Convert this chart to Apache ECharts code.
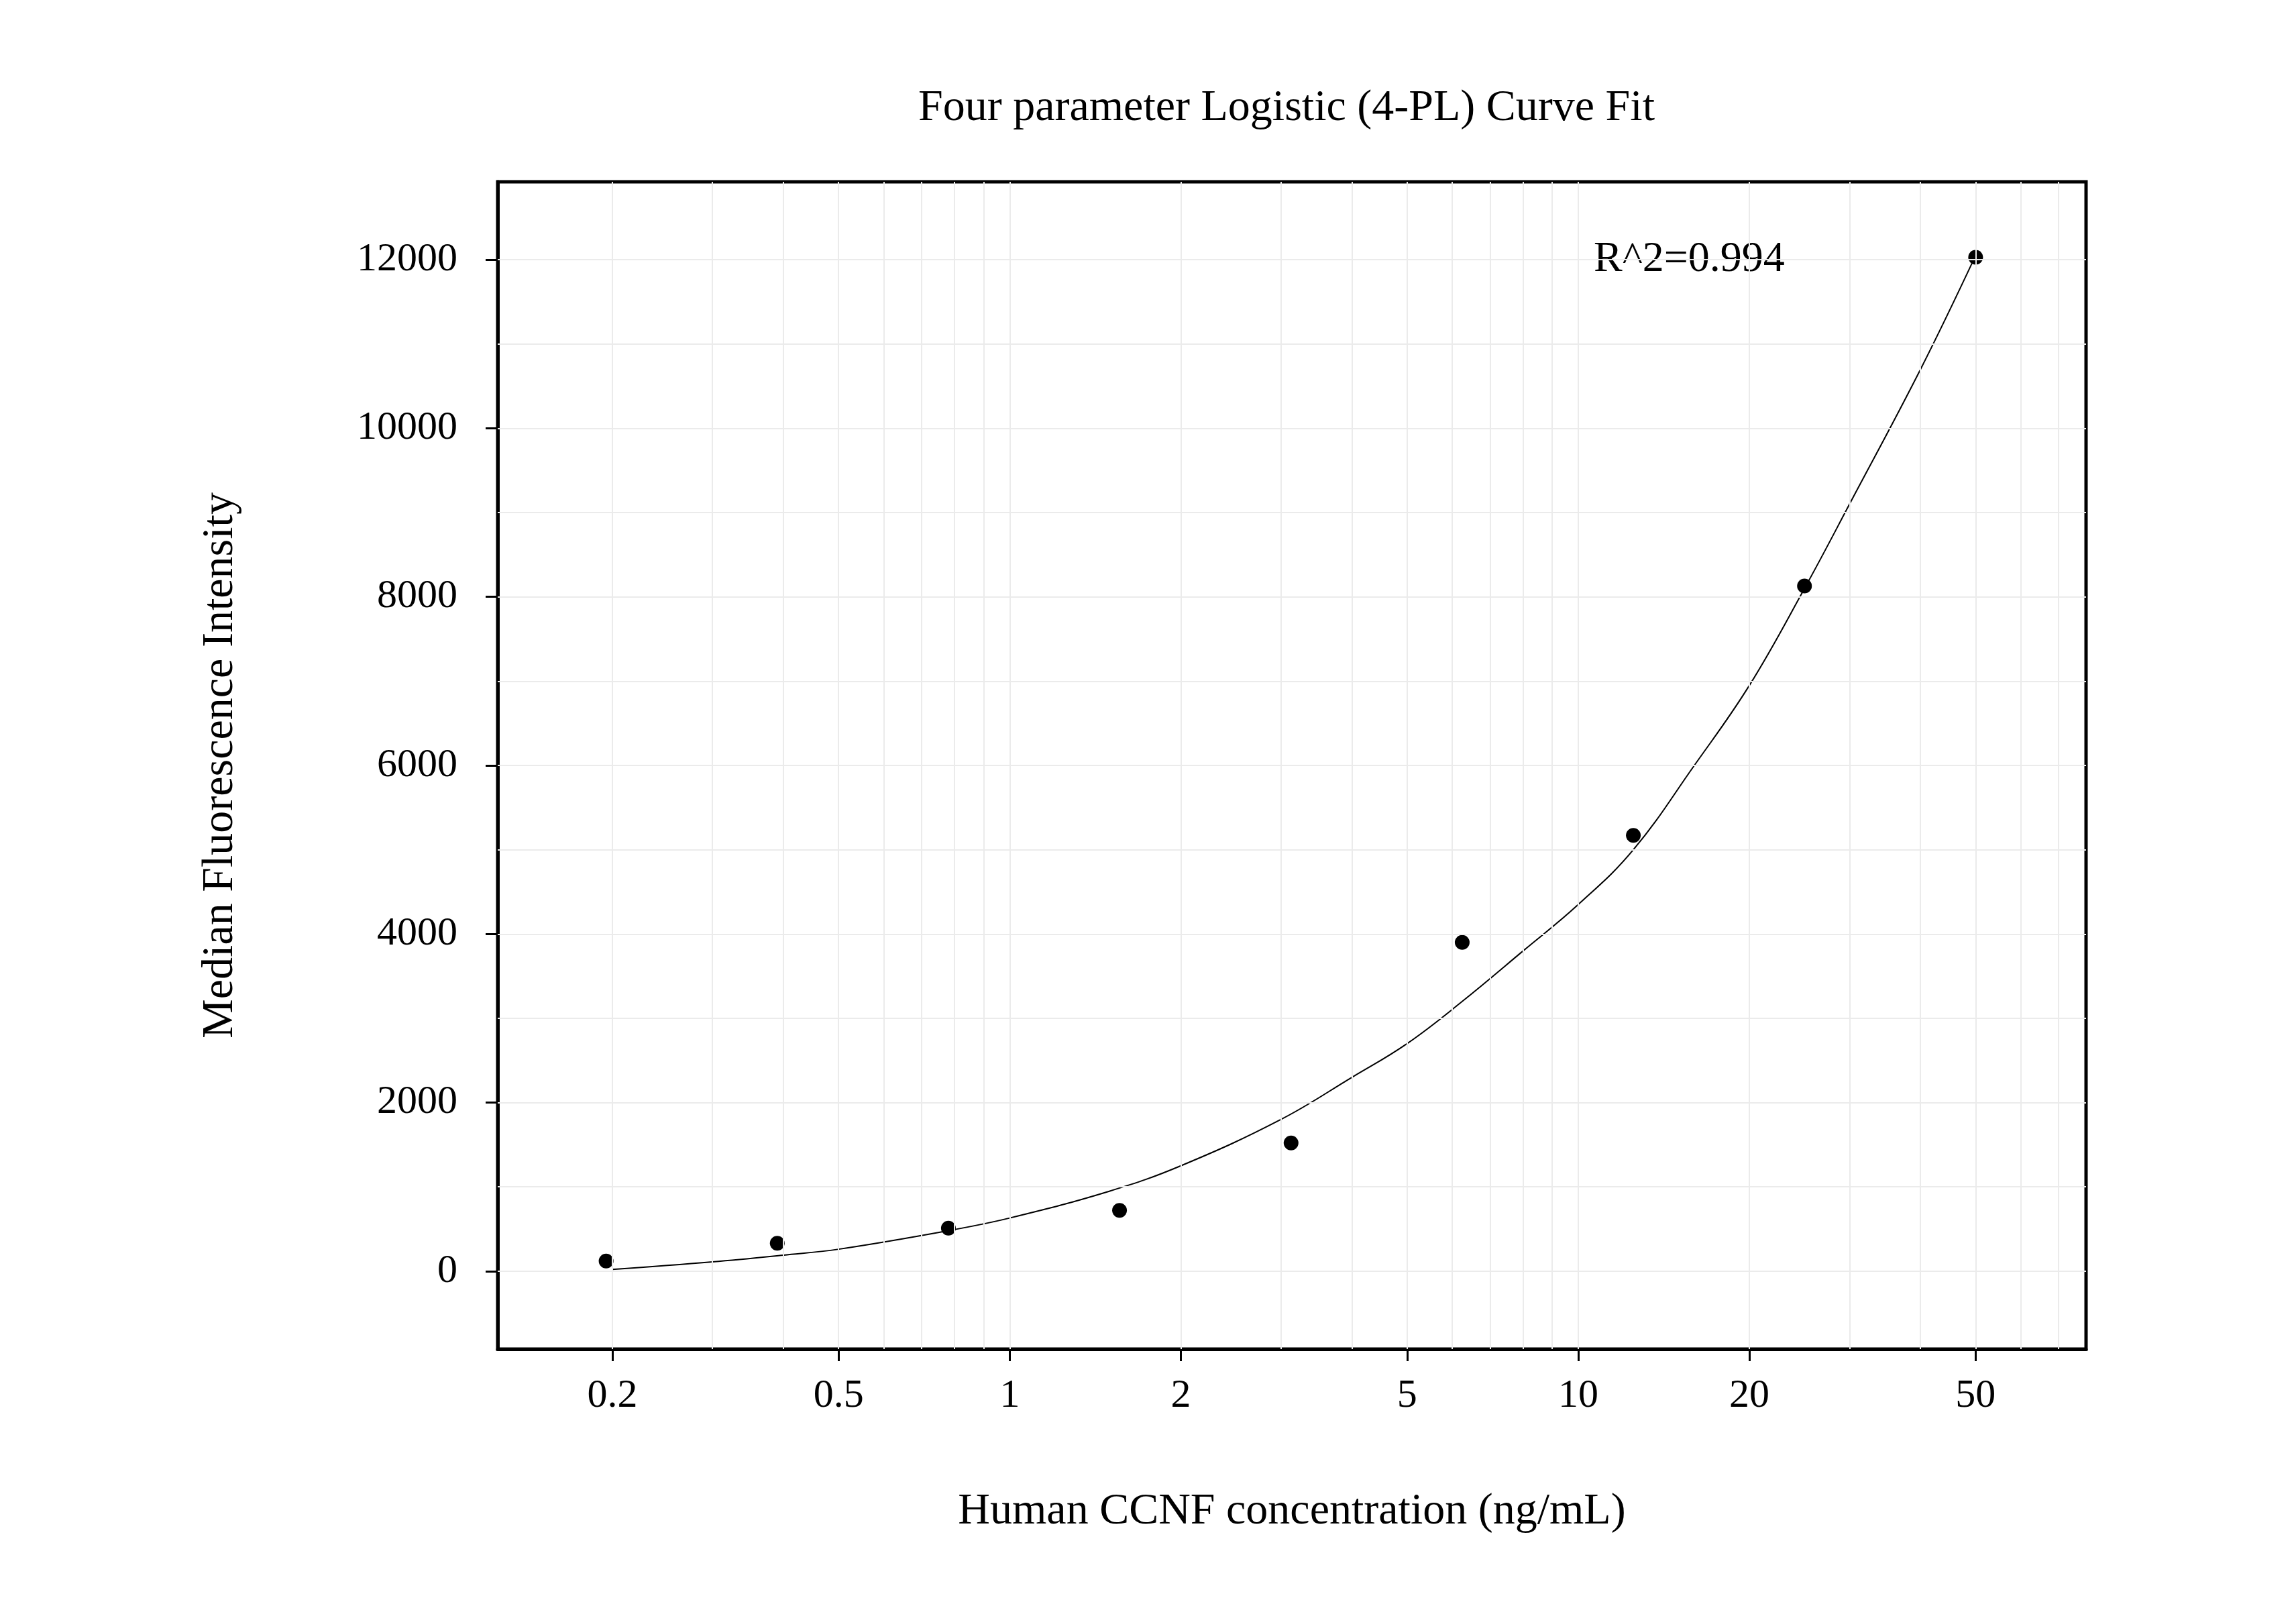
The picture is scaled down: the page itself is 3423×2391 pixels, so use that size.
<!DOCTYPE html>
<html>
<head>
<meta charset="utf-8">
<script src="https://cdn.jsdelivr.net/npm/echarts@6/dist/echarts.min.js"></script>
<style>html,body{margin:0;background:#fff}#chart{width:3423px;height:2391px}</style>
</head>
<body>
<div id="chart"></div>
<script>
const conc = [0.195, 0.39, 0.78, 1.56, 3.125, 6.25, 12.5, 25, 50];
const mfi = [120, 330, 510, 720, 1520, 3900, 5170, 8130, 12030];

const fitX = [0.2, 0.3, 0.4, 0.5, 0.78, 1, 1.5, 2, 3, 4, 5, 6.25, 8, 10, 12.5, 16, 20, 25, 30, 40, 50];
const fitY = [20, 110, 190, 260, 480, 630, 950, 1250, 1800, 2300, 2700, 3200, 3800, 4350, 5000, 6000, 6950, 8100, 9100, 10700, 12050];

const xLabels = [0.2, 0.5, 1, 2, 5, 10, 20, 50];
const xMinor = [0.3, 0.4, 0.6, 0.7, 0.8, 0.9, 3, 4, 6, 7, 8, 9, 30, 40, 60, 70];
const yLabels = [0, 2000, 4000, 6000, 8000, 10000, 12000];
const yMinor = [1000, 3000, 5000, 7000, 9000, 11000];

const font = 'Liberation Serif';
const gridStyle = {color: '#ebebeb', width: 2, type: 'solid'};

const chart = echarts.init(document.getElementById('chart'));
chart.setOption({
  backgroundColor: '#fff',
  animation: false,
  title: {
    text: 'Four parameter Logistic (4-PL) Curve Fit',
    left: 1913, top: 124, textAlign: 'center',
    textStyle: {fontFamily: font, fontSize: 66, fontWeight: 'normal', color: '#000'}
  },
  grid: {left: 742, right: 313, top: 271, bottom: 380, show: true, borderColor: '#000', borderWidth: 5, backgroundColor: 'transparent'},
  xAxis: {
    type: 'log', min: 0.1257, max: 78.2,
    name: 'Human CCNF concentration (ng/mL)', nameLocation: 'middle', nameGap: 210,
    nameTextStyle: {fontFamily: font, fontSize: 66, color: '#000'},
    axisLine: {show: true, onZero: false, lineStyle: {color: '#000', width: 5}},
    axisTick: {show: true, customValues: xLabels, length: 18, lineStyle: {color: '#000', width: 3}},
    minorTick: {show: false},
    axisLabel: {customValues: xLabels, fontFamily: font, fontSize: 60, color: '#000', margin: 40, formatter: v => String(v)},
    splitLine: {show: false}
  },
  yAxis: {
    type: 'value', min: -925, max: 12925,
    name: 'Median Fluorescence Intensity', nameLocation: 'middle', nameGap: 380,
    nameTextStyle: {fontFamily: font, fontSize: 66, color: '#000'},
    axisLine: {show: true, lineStyle: {color: '#000', width: 5}},
    axisTick: {show: true, customValues: yLabels, length: 18, lineStyle: {color: '#000', width: 3}},
    axisLabel: {customValues: yLabels, fontFamily: font, fontSize: 60, color: '#000', margin: 60, formatter: v => String(v)},
    splitLine: {show: false}
  },
  graphic: [{
    type: 'text', left: 2376, top: 355,
    style: {text: 'R^2=0.994', font: '64px "Liberation Serif"', fill: '#000'}
  }],
  series: [
    {
      type: 'line', data: [], silent: true,
      markLine: {
        silent: true, symbol: 'none', label: {show: false}, lineStyle: gridStyle,
        data: xLabels.concat(xMinor).map(v => ({xAxis: v}))
          .concat(yLabels.concat(yMinor).map(v => ({yAxis: v})))
      },
      z: 0
    },
    {
      type: 'line', data: fitX.map((x, i) => [x, fitY[i]]),
      smooth: 0.4, showSymbol: false, lineStyle: {color: '#000', width: 2}, z: 2
    },
    {
      type: 'scatter', data: conc.map((x, i) => [x, mfi[i]]),
      symbolSize: 22, itemStyle: {color: '#000', opacity: 1}, z: 3
    }
  ]
});
</script>
</body>
</html>
